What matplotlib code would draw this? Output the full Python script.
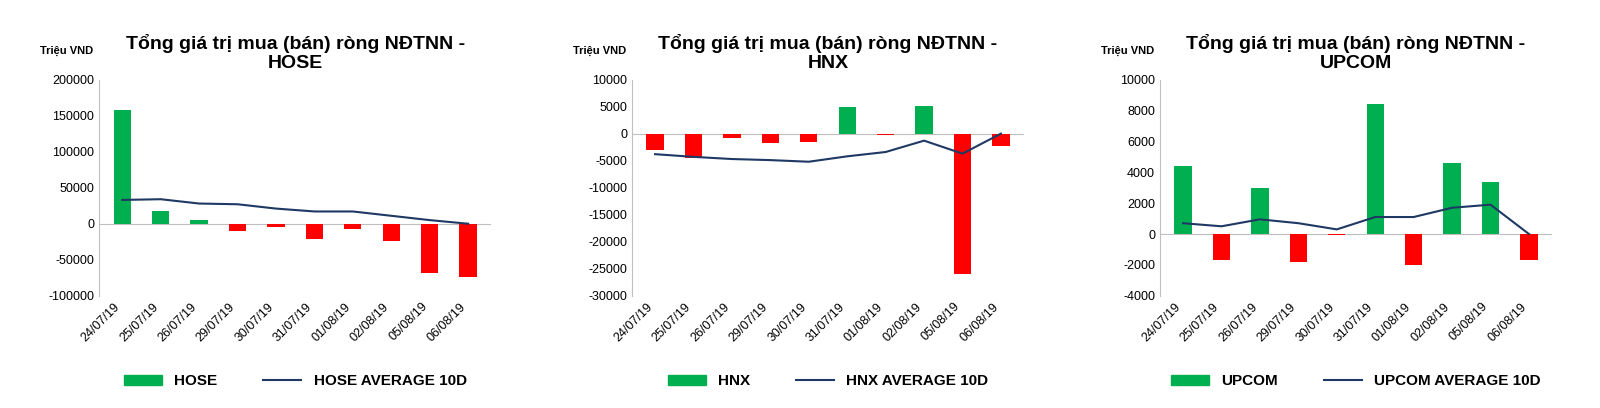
import matplotlib.pyplot as plt
from matplotlib.patches import Patch
from matplotlib.lines import Line2D
import numpy as np

plt.rcParams['font.family'] = 'Liberation Sans'
plt.rcParams['axes.unicode_minus'] = False

dates = ['24/07/19', '25/07/19', '26/07/19', '29/07/19', '30/07/19',
         '31/07/19', '01/08/19', '02/08/19', '05/08/19', '06/08/19']

hose = [158000, 17000, 5000, -10000, -4000, -21000, -7000, -24000, -68000, -74000]
hose_avg = [33000, 34000, 28000, 27000, 21000, 17000, 17000, 11000, 5000, 0]

hnx = [-3000, -4500, -800, -1800, -1500, 5000, -200, 5200, -26000, -2300]
hnx_avg = [-3800, -4300, -4700, -4900, -5200, -4200, -3400, -1300, -3700, 0]

upcom = [4400, -1700, 3000, -1800, -50, 8400, -2000, 4600, 3400, -1700]
upcom_avg = [700, 500, 950, 700, 300, 1100, 1100, 1700, 1900, 0]

panels = [
    ('HOSE', hose, hose_avg, (-100000, 200000), 50000),
    ('HNX', hnx, hnx_avg, (-30000, 10000), 5000),
    ('UPCOM', upcom, upcom_avg, (-4000, 10000), 2000),
]

GREEN, RED, NAVY = '#00B050', '#FF0000', '#1F3864'

fig = plt.figure(figsize=(16, 4.08), dpi=100)
lefts = [0.062, 0.395, 0.725]
x = np.arange(len(dates))

for left, (name, vals, avg, ylim, step) in zip(lefts, panels):
    ax = fig.add_axes([left, 0.275, 0.245, 0.53])
    colors = [GREEN if v >= 0 else RED for v in vals]
    ax.bar(x, vals, width=0.45, color=colors)
    ax.plot(x, avg, color=NAVY, lw=1.5)
    ax.set_ylim(*ylim)
    ax.set_yticks(np.arange(ylim[0], ylim[1] + 1, step))
    ax.set_xlim(-0.6, len(dates) - 0.4)
    ax.set_xticks(x)
    ax.set_xticklabels(dates, rotation=45, ha='right', fontsize=9)
    ax.tick_params(axis='y', labelsize=9, length=0)
    ax.tick_params(axis='x', length=0)
    for s in ['top', 'right', 'bottom']:
        ax.spines[s].set_visible(False)
    ax.spines['left'].set_color('#bfbfbf')
    ax.axhline(0, color='#bfbfbf', lw=0.8, zorder=0)
    ax.set_title('Tổng giá trị mua (bán) ròng NĐTNN -\n' + name,
                 fontsize=14, fontweight='bold', pad=8)
    ax.text(-0.15, 1.12, 'Triệu VND', transform=ax.transAxes,
            fontsize=8, fontweight='bold')
    handles = [Patch(color=GREEN), Line2D([], [], color=NAVY, lw=1.5)]
    ax.legend(handles, [name, name + ' AVERAGE 10D'],
              loc='upper center', bbox_to_anchor=(0.5, -0.3), ncol=2,
              frameon=False, prop={'weight': 'bold', 'size': 11},
              columnspacing=3, handlelength=2.5)

fig.savefig('out.png', dpi=100)
